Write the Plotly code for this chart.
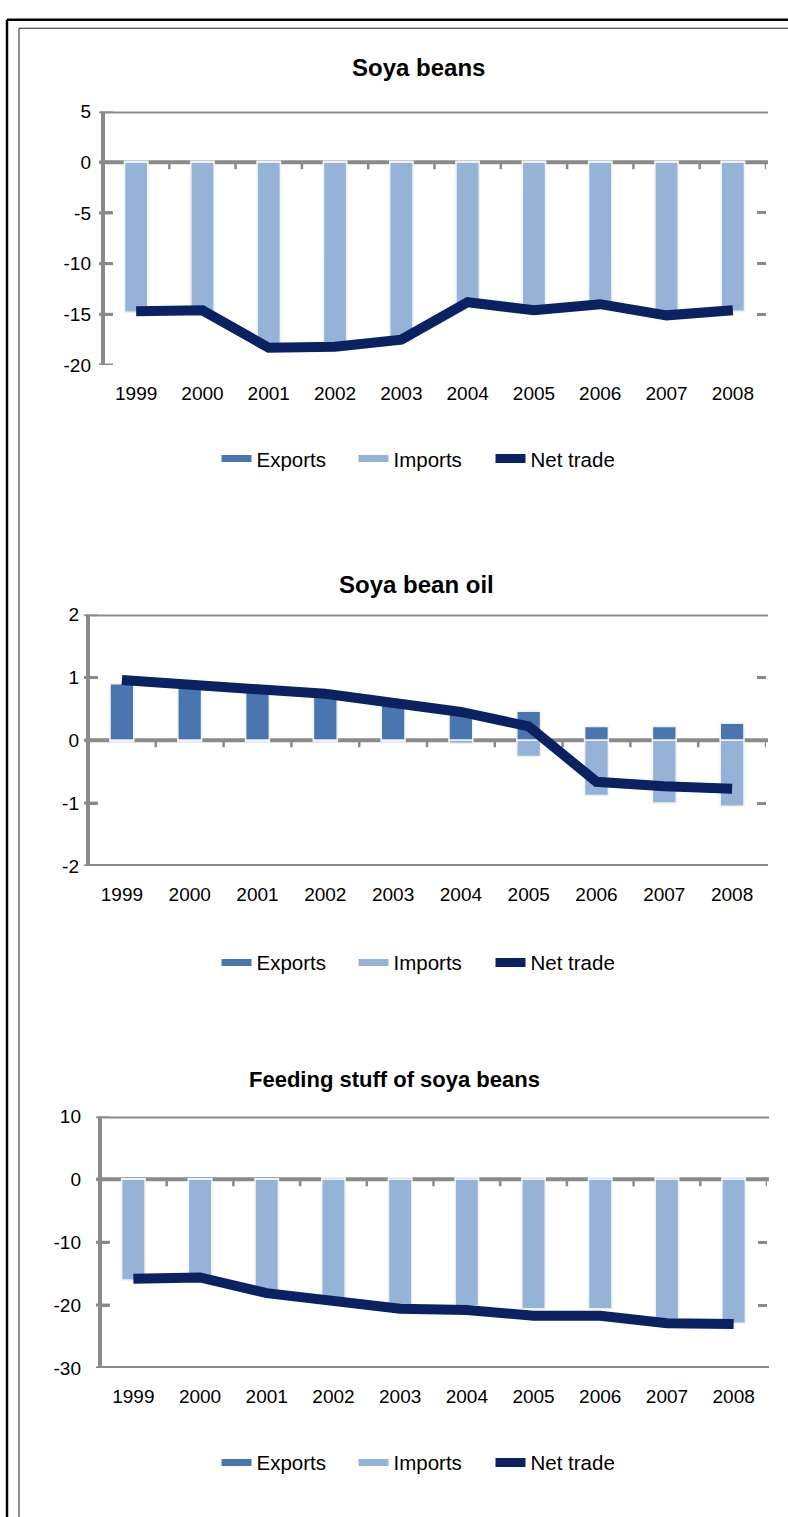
import plotly.graph_objects as go

W, H = 788, 1517

years = ["1999", "2000", "2001", "2002", "2003", "2004", "2005", "2006", "2007", "2008"]

# Soya beans
soy_exports = [0.1, 0.1, 0.1, 0.1, 0.1, 0.1, 0.1, 0.1, 0.1, 0.1]
soy_imports = [-14.8, -14.7, -18.4, -18.3, -17.6, -13.9, -14.7, -14.1, -15.2, -14.7]
soy_net = [-14.7, -14.6, -18.3, -18.2, -17.5, -13.8, -14.6, -14.0, -15.1, -14.6]
soy_ticks = [5, 0, -5, -10, -15, -20]

# Soya bean oil
oil_exports = [0.90, 0.86, 0.80, 0.73, 0.61, 0.45, 0.46, 0.22, 0.22, 0.27]
oil_imports = [-0.02, -0.02, -0.02, -0.02, -0.02, -0.05, -0.26, -0.88, -1.00, -1.05]
oil_net = [0.96, 0.90, 0.81, 0.74, 0.61, 0.45, 0.22, -0.66, -0.73, -0.77]
oil_ticks = [2, 1, 0, -1, -2]

# Feeding stuff of soya beans
feed_exports = [0.1, 0.1, 0.1, 0.3, 0.3, 0.3, 0.3, 0.3, 0.3, 0.3]
feed_imports = [-16.0, -15.9, -17.8, -19.2, -20.0, -20.1, -20.6, -20.6, -22.3, -22.9]
feed_net = [-15.8, -15.6, -18.1, -19.5, -20.6, -20.8, -21.7, -21.7, -22.9, -23.0]
feed_ticks = [10, 0, -10, -20, -30]

EXP_C = "#4A76B0"
IMP_C = "#95B3D7"
NET_C = "#0B2262"
AX_C = "#8A8A8A"
FONT = "Liberation Sans, Arial, sans-serif"


def px_x(x):
    return x / W


def px_y(y):
    return 1 - y / H


panels = [
    dict(title="Soya beans", ex=soy_exports, im=soy_imports, net=soy_net, ticks=soy_ticks,
         x0=103, x1=766, ytop=103, ybot=360, bottom_line=False,
         title_x=418, title_y=58, title_size=24, legend_y=455, standoff=11),
    dict(title="Soya bean oil", ex=oil_exports, im=oil_imports, net=oil_net, ticks=oil_ticks,
         x0=88, x1=766, ytop=613, ybot=868, bottom_line=True,
         title_x=417, title_y=583, title_size=24, legend_y=966, standoff=8),
    dict(title="Feeding stuff of soya beans", ex=feed_exports, im=feed_imports, net=feed_net,
         ticks=feed_ticks, x0=100, x1=767, ytop=1122, ybot=1377, bottom_line=True,
         title_x=394, title_y=1085, title_size=22, legend_y=1473, standoff=18),
]

fig = go.Figure()
shapes = []
annotations = []

for i, p in enumerate(panels, start=1):
    sfx = "" if i == 1 else str(i)
    xa, ya = "x" + sfx, "y" + sfx
    lg = "legend" + sfx
    ymin, ymax = min(p["ticks"]), max(p["ticks"])
    plot_w = p["x1"] - p["x0"]

    fig.add_trace(go.Bar(x=years, y=p["ex"], name="Exports", marker_color=EXP_C,
                         marker_line=dict(color="#EEF1F6", width=1.5), width=0.35,
                         xaxis=xa, yaxis=ya, showlegend=False))
    fig.add_trace(go.Bar(x=years, y=p["im"], name="Imports", marker_color=IMP_C,
                         marker_line=dict(color="#EEF1F6", width=1.5), width=0.35,
                         xaxis=xa, yaxis=ya, showlegend=False))
    fig.add_trace(go.Scatter(x=years, y=p["net"], name="Net trade", mode="lines",
                             line=dict(color=NET_C, width=10), xaxis=xa, yaxis=ya,
                             showlegend=False))

    # legend entries drawn as wide strokes
    for nm, col, wd in [("Exports", EXP_C, 7), ("Imports", IMP_C, 7), ("Net trade", NET_C, 9)]:
        fig.add_trace(go.Scatter(x=[None], y=[None], name=nm, mode="lines",
                                 line=dict(color=col, width=wd), xaxis=xa, yaxis=ya,
                                 legend=lg, showlegend=True))

    fig.update_layout({
        "xaxis" + sfx: dict(domain=[px_x(p["x0"]), px_x(p["x1"])],
                            anchor=ya, type="category", showgrid=False, zeroline=False,
                            showline=False, ticks="", ticklabelstandoff=15,
                            range=[-0.5, len(years) - 0.5],
                            tickfont=dict(size=19, color="#000", family=FONT),
                            fixedrange=True),
        "yaxis" + sfx: dict(domain=[px_y(p["ybot"]), px_y(p["ytop"])],
                            anchor=xa, range=[ymin, ymax],
                            tickvals=p["ticks"], ticktext=[str(t) for t in p["ticks"]],
                            showgrid=False, zeroline=False, showline=False,
                            ticks="inside", ticklen=9, tickwidth=3, tickcolor=AX_C,
                            mirror="ticks", ticklabelstandoff=p["standoff"],
                            tickfont=dict(size=19, color="#000", family=FONT),
                            fixedrange=True),
        lg: dict(orientation="h", x=px_x(422), xanchor="center",
                 y=px_y(p["legend_y"]), yanchor="middle",
                 font=dict(size=20.5, color="#000", family=FONT),
                 bgcolor="rgba(0,0,0,0)", entrywidth=92, entrywidthmode="pixels",
                 itemclick=False, itemdoubleclick=False),
    })

    # left axis line
    shapes.append(dict(type="line", xref=xa + " domain", yref=ya, x0=0, x1=0,
                       y0=ymin, y1=ymax, line=dict(color=AX_C, width=4), layer="below"))
    # top edge, zero line and (optionally) bottom edge of the plot area
    for yv in [ymax, 0] + ([ymin] if p["bottom_line"] else []):
        shapes.append(dict(type="line", xref=xa + " domain", yref=ya, x0=-0.004, x1=1.003,
                           y0=yv, y1=yv, line=dict(color=AX_C, width=4), layer="below"))
    # tick stubs crossing the left axis
    for t in p["ticks"]:
        shapes.append(dict(type="line", xref=xa + " domain", yref=ya,
                           x0=-4 / plot_w, x1=10 / plot_w, y0=t, y1=t,
                           line=dict(color=AX_C, width=3), layer="above"))
    # category boundary marks hanging under the zero line
    dy = (ymax - ymin) / (p["ybot"] - p["ytop"])
    for k in range(len(years) + 1):
        shapes.append(dict(type="line", xref=xa, yref=ya, x0=k - 0.5, x1=k - 0.5,
                           y0=0, y1=-7 * dy, line=dict(color=AX_C, width=2.5),
                           layer="below"))

    annotations.append(dict(text="<b>%s</b>" % p["title"], x=px_x(p["title_x"]),
                            y=px_y(p["title_y"]), xref="paper", yref="paper",
                            showarrow=False, xanchor="center", yanchor="middle",
                            font=dict(size=p["title_size"], color="#000", family=FONT)))

# page frame
shapes += [
    dict(type="line", xref="paper", yref="paper", x0=px_x(7), x1=1.01, y0=px_y(10), y1=px_y(10),
         line=dict(color="#000", width=2.5)),
    dict(type="line", xref="paper", yref="paper", x0=px_x(7), x1=px_x(7), y0=px_y(10), y1=-0.01,
         line=dict(color="#000", width=2.5)),
    dict(type="line", xref="paper", yref="paper", x0=px_x(19), x1=1.01, y0=px_y(18.5), y1=px_y(18.5),
         line=dict(color="#222", width=1)),
    dict(type="line", xref="paper", yref="paper", x0=px_x(19), x1=px_x(19), y0=px_y(18.5), y1=-0.01,
         line=dict(color="#222", width=1)),
]

fig.update_layout(
    width=W, height=H, margin=dict(l=0, r=0, t=0, b=0),
    paper_bgcolor="#fff", plot_bgcolor="rgba(0,0,0,0)",
    barmode="relative", bargap=0.65,
    font=dict(family=FONT, color="#000"),
    shapes=shapes, annotations=annotations,
)

fig.write_html("out.html")
